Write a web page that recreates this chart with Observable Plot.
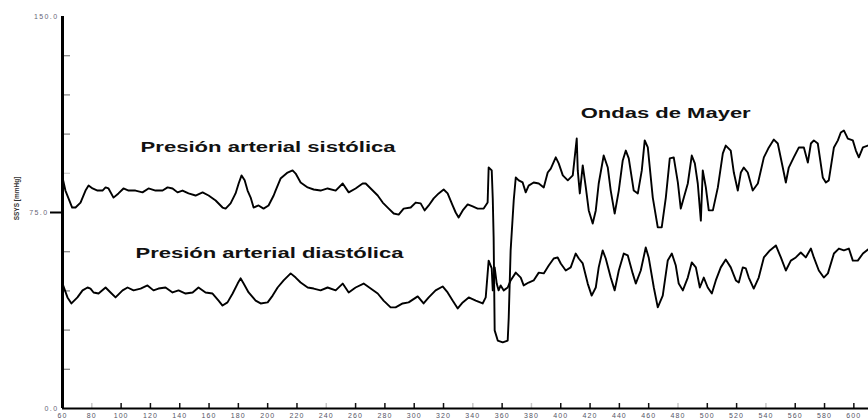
<!DOCTYPE html>
<html><head><meta charset="utf-8">
<script src="https://cdn.jsdelivr.net/npm/d3@7"></script>
<script src="https://cdn.jsdelivr.net/npm/@observablehq/plot@0.6"></script>
<style>body{margin:0;background:#fff}</style>
</head><body><div id="chart"></div>
<script>
// Presión arterial sistólica (SSYS) — time (x) and mmHg (y)
const sysX = [60.0,62.0,66.6,68.9,72.3,75.7,77.8,80.5,83.9,87.3,
89.4,91.4,94.8,98.2,101.6,105.1,109.8,114.6,118.7,123.5,
128.3,131.7,135.1,138.5,141.9,146.0,150.8,155.6,159.7,164.5,
169.2,171.3,174.7,178.1,180.2,182.2,184.3,186.3,188.4,190.4,
193.8,197.2,200.6,204.1,205.4,208.8,213.6,217.0,219.1,222.5,
227.3,231.4,236.1,240.9,246.4,251.2,255.3,260.0,264.8,266.9,
270.3,275.1,278.5,282.6,286.0,289.4,292.8,297.6,301.0,304.4,
307.1,309.9,313.3,316.7,320.1,322.8,326.2,328.3,330.3,333.1,
336.5,339.9,343.3,347.4,350.1,350.8,352.9,353.6,354.2,354.9,
357.0,360.4,363.8,364.5,365.8,367.9,369.3,371.3,374.0,376.1,
378.1,381.5,385.0,388.4,391.1,393.2,396.6,398.6,401.4,404.8,
408.2,410.9,411.6,413.0,415.0,417.1,419.1,421.8,423.9,425.9,
429.3,432.1,434.1,436.8,439.6,442.3,444.4,446.4,449.8,452.6,
455.3,457.3,459.4,462.8,466.2,468.9,471.7,474.4,477.1,479.9,
481.9,484.0,486.7,489.4,491.5,493.5,495.6,496.9,499.0,501.0,
503.8,507.2,510.6,512.6,516.0,518.1,520.8,522.9,524.9,527.6,
531.0,534.5,538.6,542.0,545.4,548.1,551.5,553.6,555.6,559.0,
562.5,565.9,568.6,570.7,572.7,575.4,578.8,580.9,582.9,586.4,
589.1,591.1,593.2,595.9,599.3,601.4,603.4,606.2,609.6];
const sysY = [88.4,83.4,76.9,76.9,78.8,83.4,85.3,84.2,83.4,83.4,
84.6,84.2,80.7,82.3,84.2,83.4,83.4,82.7,84.2,83.4,
83.4,84.6,84.2,82.7,83.4,82.3,81.5,82.7,81.5,79.6,
76.9,76.5,78.5,82.3,86.1,89.2,87.3,83.4,80.7,76.9,
77.7,76.5,77.7,81.5,83.4,88.0,90.3,91.1,89.9,86.5,
84.6,83.8,83.4,84.2,83.4,86.1,82.7,84.2,86.1,86.1,
84.2,81.5,78.8,76.5,74.6,74.2,76.5,76.9,78.8,78.5,
75.8,77.7,80.4,82.3,83.8,82.3,77.7,75.0,73.1,75.8,
78.1,77.3,76.5,76.5,78.8,92.2,91.1,80.4,65.4,29.9,
26.0,25.3,26.0,34.8,60.5,79.6,88.4,87.3,86.5,82.7,
85.3,86.5,86.1,84.6,90.3,91.8,96.1,93.8,89.2,87.3,
89.2,103.3,91.1,82.3,93.0,84.6,75.8,70.8,75.8,86.1,
96.8,92.2,83.4,74.6,83.4,94.9,98.7,95.7,83.4,82.3,
91.1,102.6,99.9,80.7,69.3,69.3,80.7,95.7,96.1,86.5,
76.5,80.7,86.1,96.8,93.8,86.1,71.9,91.1,84.6,75.8,
75.8,84.6,97.6,100.6,98.7,90.3,83.4,90.3,92.2,90.3,
83.4,86.1,96.1,99.9,102.9,101.4,92.2,86.5,92.2,96.1,
99.9,99.9,94.1,101.4,102.6,101.4,88.4,86.5,87.3,99.9,
102.6,105.6,106.4,103.3,102.6,98.7,96.1,99.9,100.6];

// Presión arterial diastólica
const diaX = [60.0,63.4,66.1,70.2,73.7,77.1,79.1,81.2,84.6,89.4,
92.8,96.2,101.0,104.4,108.5,113.3,118.0,122.1,125.5,130.3,
135.1,139.2,144.0,148.8,152.8,157.6,162.4,166.5,169.2,172.6,
176.1,179.5,181.5,183.6,187.0,191.8,195.2,200.0,203.4,206.8,
210.9,215.7,219.1,222.5,227.3,231.4,236.1,240.9,246.4,251.2,
255.3,260.0,265.5,270.3,275.1,279.1,283.9,287.3,292.1,296.2,
302.4,306.4,309.9,314.6,319.4,322.8,326.2,329.7,333.1,337.2,
342.0,346.7,348.8,350.8,352.9,353.6,354.9,356.3,357.6,359.0,
361.1,363.8,365.8,369.3,372.7,374.7,378.1,381.5,385.0,388.4,
391.8,395.2,397.9,400.0,403.4,406.8,410.2,412.3,415.0,418.4,
421.1,423.9,425.9,428.6,430.7,434.1,436.8,439.6,443.0,445.7,
449.1,451.2,454.6,458.0,460.0,463.5,466.2,469.6,473.0,475.8,
478.5,480.5,483.3,486.7,489.4,492.2,494.9,497.6,500.3,503.1,
505.8,509.2,512.6,516.0,519.5,521.5,524.2,526.3,528.3,531.7,
535.1,538.6,542.7,546.8,550.2,553.6,557.0,560.4,563.8,567.2,
570.7,572.7,576.1,579.5,582.3,586.4,589.8,593.2,596.6,599.3,
602.7,606.2,609.6];
const diaY = [47.8,42.5,40.2,42.5,45.2,46.3,45.9,44.4,44.0,46.3,
44.4,42.5,45.2,46.3,45.2,45.9,47.1,45.2,45.9,46.3,
44.4,45.2,44.0,44.4,46.3,44.4,44.0,41.3,39.4,40.6,
44.0,47.8,49.8,47.8,44.4,41.3,40.2,40.6,43.2,46.3,
49.0,51.7,50.1,48.2,46.3,45.9,45.2,46.3,45.2,47.8,
44.4,46.3,47.8,45.9,44.0,41.3,38.7,38.7,40.2,40.6,
42.9,40.2,42.5,45.2,46.7,44.4,41.3,38.3,40.6,42.5,
41.3,40.2,42.5,56.6,53.6,45.2,54.0,47.8,45.2,47.1,
45.2,46.3,49.0,52.0,50.1,47.1,48.2,49.0,52.0,51.7,
54.7,57.4,57.8,55.5,52.8,54.0,59.3,57.4,55.5,47.8,
43.2,46.3,54.0,60.5,57.4,50.1,45.2,52.8,59.3,58.6,
51.7,47.8,52.8,61.6,57.8,46.3,38.7,43.2,56.6,59.3,
54.7,47.8,45.2,50.1,55.9,54.0,46.3,50.1,46.3,44.0,
49.0,54.0,57.0,54.0,49.0,48.2,54.0,53.6,50.1,45.9,
50.1,57.8,60.5,62.4,57.8,52.8,56.6,57.8,59.7,57.8,
61.2,57.8,52.8,50.1,51.7,59.3,61.2,60.5,61.2,56.6,
56.6,59.3,60.8];

const xDomain = [60, 610];
const yDomain = [0, 150];
const xTickLabels = [60,80,100,120,140,160,180,200,220,240,260,280,300,320,340,360,380,400,420,440,460,480,500,520,540,560,580,600];
const xTicksDark = [100,120,140,160,180,200,220,260,280,300,320,360,400,420,440,460,500,520,560,580,600];
const xTicksLight = [80,240,340,380,480,540];
const yTickLabelsOuter = [0, 150];
const yTickMain = [75];
const yTicksDark = [15,30,45,60,105,120,135];
const yTicksLight = [90];
const yTitle = "SSYS [mmHg]";

const annoLabels = ["Presión arterial sistólica", "Presión arterial diastólica", "Ondas de Mayer"];
const annoX = [113.3, 109.8, 413.6];
const annoY = [98.0, 57.4, 111.0];

const sys = sysX.map((x, i) => ({x, y: sysY[i]}));
const dia = diaX.map((x, i) => ({x, y: diaY[i]}));
const annos = annoLabels.map((t, i) => ({t, x: annoX[i], y: annoY[i]}));
const fmt = d3.format(".1f");

const chart = Plot.plot({
  width: 868, height: 419,
  marginLeft: 62, marginRight: 0, marginTop: 16, marginBottom: 11,
  x: {domain: xDomain},
  y: {domain: yDomain},
  style: {background: "#fff", fontFamily: "'Liberation Sans', Arial, sans-serif", overflow: "visible"},
  marks: [
    Plot.tickY(yTicksDark, {y: d => d, stroke: "#8a8a8a", strokeWidth: 1.3, insetRight: 798}),
    Plot.tickY(yTicksLight, {y: d => d, stroke: "#d0d0d0", strokeWidth: 1.3, insetRight: 798}),
    Plot.tickX(xTicksDark, {x: d => d, stroke: "#111", strokeWidth: 1.5, insetTop: 387}),
    Plot.tickX(xTicksLight, {x: d => d, stroke: "#c8c8c8", strokeWidth: 1.5, insetTop: 387}),
    Plot.line(sys, {x: "x", y: "y", stroke: "#000", strokeWidth: 1.9, curve: "linear"}),
    Plot.line(dia, {x: "x", y: "y", stroke: "#000", strokeWidth: 1.9, curve: "linear"}),
    Plot.ruleX([xDomain[0]], {stroke: "#000", strokeWidth: 3}),
    Plot.ruleY([yDomain[0]], {stroke: "#000", strokeWidth: 2}),
    Plot.axisX({ticks: xTickLabels, tickSize: 0, tickPadding: 4.5, fontSize: 7, color: "#556", label: null}),
    Plot.axisY({ticks: yTickLabelsOuter, tickSize: 0, tickPadding: 4, tickFormat: fmt, fontSize: 7, color: "#667", label: null}),
    Plot.axisY({ticks: yTickMain, tickSize: 12, tickPadding: 2, tickFormat: fmt, fontSize: 7, stroke: "#000", fill: "#667", strokeWidth: 2, label: null}),
    Plot.text([yTitle], {frameAnchor: "left", textAnchor: "middle", dx: -46, dy: -14, rotate: -90, fontSize: 6.5, fontWeight: "bold", fill: "#333"}),
    Plot.text(annos, {x: "x", y: "y", text: "t", textAnchor: "start", lineAnchor: "bottom", fontSize: 14, fontWeight: "bold", fill: "#111"})
  ]
});
document.getElementById("chart").appendChild(chart);

// stretch the annotation labels horizontally as in the reference
const annoWidths = [255, 268, 170];
chart.querySelectorAll("text").forEach(t => {
  const i = annoLabels.indexOf(t.textContent);
  if (i >= 0) {
    t.setAttribute("textLength", annoWidths[i]);
    t.setAttribute("lengthAdjust", "spacingAndGlyphs");
  }
});
chart.querySelectorAll('g[aria-label="x-axis tick label"] text').forEach(t => t.style.letterSpacing = "1.1px");
chart.querySelectorAll('g[aria-label="y-axis tick label"] text').forEach(t => t.style.letterSpacing = "1.4px");
</script>
</body></html>
